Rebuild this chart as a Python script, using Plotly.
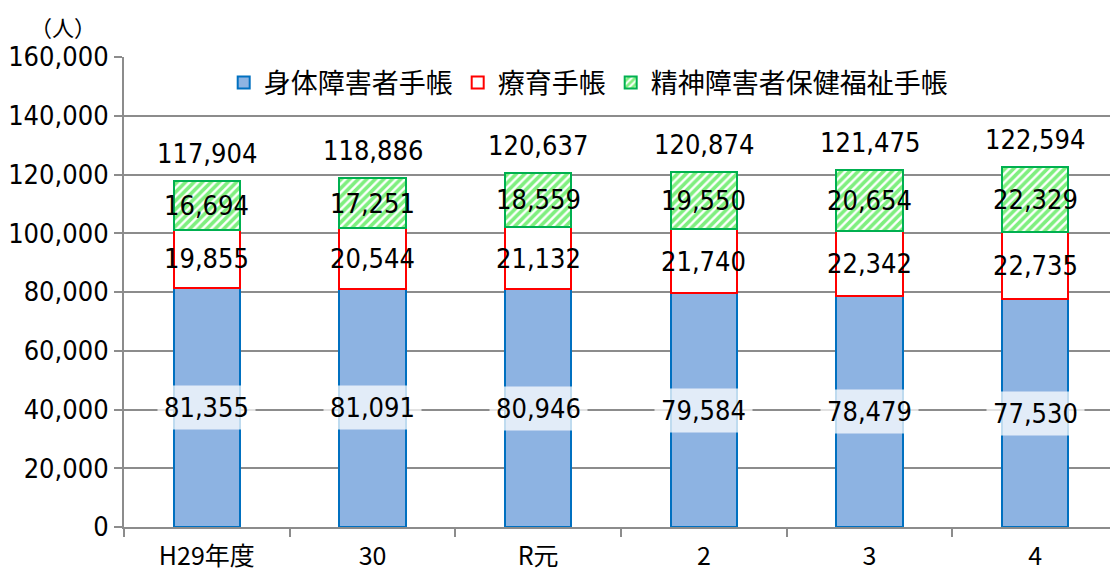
import plotly.graph_objects as go

categories = ["H29年度", "30", "R元", "2", "3", "4"]
shintai = [81355, 81091, 80946, 79584, 78479, 77530]
ryoiku = [19855, 20544, 21132, 21740, 22342, 22735]
seishin = [16694, 17251, 18559, 19550, 20654, 22329]
series_names = ["身体障害者手帳", "療育手帳", "精神障害者保健福祉手帳"]
y_ticks = [0, 20000, 40000, 60000, 80000, 100000, 120000, 140000, 160000]

FONT = "DejaVu Sans Condensed, Liberation Sans Narrow, Noto Sans CJK JP, sans-serif"
JFONT = "Noto Sans CJK JP, sans-serif"

fig = go.Figure()
fig.add_bar(x=categories, y=shintai, name=series_names[0],
            marker=dict(color="#8DB3E2", line=dict(color="#0070C0", width=2)))
fig.add_bar(x=categories, y=ryoiku, name=series_names[1],
            marker=dict(color="#FFFFFF", line=dict(color="#FF0000", width=2)))
fig.add_bar(x=categories, y=seishin, name=series_names[2],
            marker=dict(color="#FFFFFF", line=dict(color="#00B050", width=2),
                        pattern=dict(shape="/", fgcolor="#00E000", bgcolor="#FFFFFF",
                                     size=6, solidity=0.6)))

annotations = []
for i, c in enumerate(categories):
    a, b, g = shintai[i], ryoiku[i], seishin[i]
    annotations.append(dict(x=i, y=a / 2, text=f"{a:,}", showarrow=False,
                            font=dict(family=FONT, size=27, color="#000"),
                            bgcolor="rgba(255,255,255,0.75)", borderpad=6))
    annotations.append(dict(x=i, y=a + b / 2, text=f"{b:,}", showarrow=False,
                            font=dict(family=FONT, size=27, color="#000")))
    annotations.append(dict(x=i, y=a + b + g / 2, text=f"{g:,}", showarrow=False,
                            font=dict(family=FONT, size=27, color="#000")))
    total = a + b + g
    annotations.append(dict(x=i, y=total, text=f"{total:,}", showarrow=False,
                            yanchor="bottom", yshift=10,
                            font=dict(family=FONT, size=27, color="#000")))

annotations.append(dict(xref="paper", yref="paper", x=-0.061, y=1.102,
                        xanchor="center", yanchor="top", text="（人）", showarrow=False,
                        borderpad=0,
                        font=dict(family=JFONT, size=22, color="#000")))

fig.update_layout(
    barmode="stack",
    bargap=0.6,
    width=1110, height=570,
    margin=dict(l=116, r=0, t=49, b=51),
    plot_bgcolor="#FFFFFF", paper_bgcolor="#FFFFFF",
    showlegend=True,
    legend=dict(orientation="h", x=0.467, xanchor="center", y=0.945, yanchor="middle",
                font=dict(family=JFONT, size=27, color="#000"),
                bgcolor="rgba(255,255,255,0)", traceorder="normal",
                itemwidth=30),
    annotations=annotations,
    font=dict(family=FONT, color="#000"),
)
fig.update_yaxes(range=[0, 160000], tickvals=y_ticks,
                 ticktext=[f"{v:,}" for v in y_ticks],
                 showgrid=True, gridcolor="#8C8C8C", gridwidth=2,
                 showline=True, linecolor="#8C8C8C", linewidth=2,
                 ticks="outside", ticklen=8, tickcolor="#8C8C8C", tickwidth=2,
                 tickfont=dict(family=FONT, size=27, color="#000"), zeroline=False)
fig.update_xaxes(type="category", range=[-0.5, 5.5], showline=True,
                 linecolor="#8C8C8C", linewidth=2,
                 ticks="outside", tickson="boundaries", ticklen=8,
                 tickcolor="#8C8C8C", tickwidth=2, tickangle=0,
                 ticklabelstandoff=6,
                 tickfont=dict(family=JFONT, size=25, color="#000"))

fig.write_html("out.html")
